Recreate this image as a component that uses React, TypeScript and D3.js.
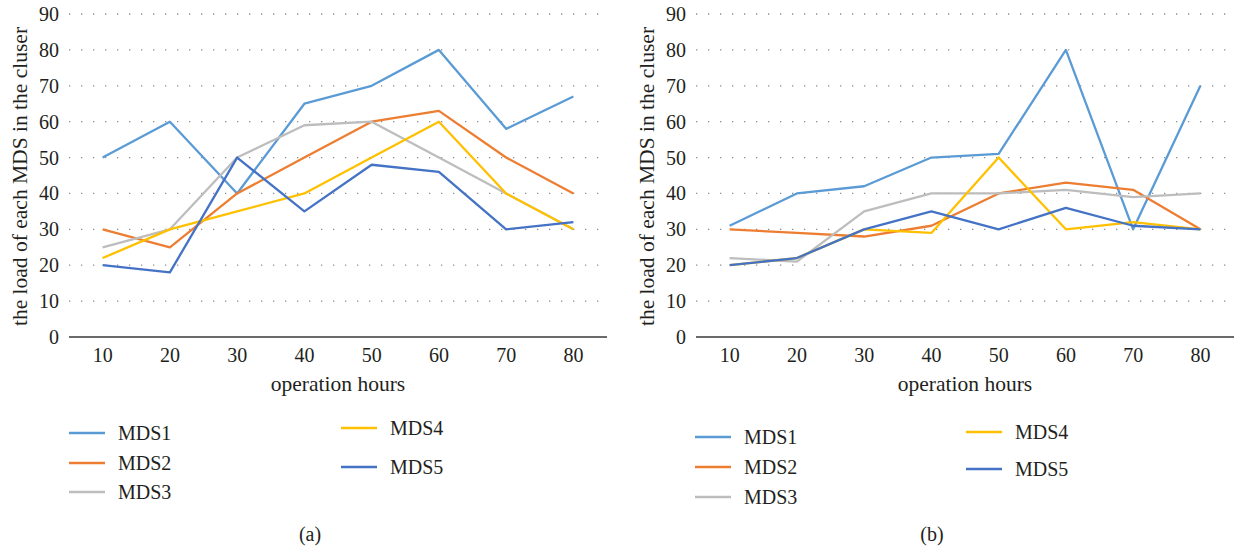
import React from "react";
import * as d3 from "d3";

const categories = ["10", "20", "30", "40", "50", "60", "70", "80"];
const yTicks = [0, 10, 20, 30, 40, 50, 60, 70, 80, 90];
const seriesNames = ["MDS1", "MDS2", "MDS3", "MDS4", "MDS5"];
const seriesColors = ["#5B9BD5", "#ED7D31", "#BDBDBD", "#FFC000", "#4472C4"];

const panelA_MDS1 = [50, 60, 40, 65, 70, 80, 58, 67];
const panelA_MDS2 = [30, 25, 40, 50, 60, 63, 50, 40];
const panelA_MDS3 = [25, 30, 50, 59, 60, 50, 40, 30];
const panelA_MDS4 = [22, 30, 35, 40, 50, 60, 40, 30];
const panelA_MDS5 = [20, 18, 50, 35, 48, 46, 30, 32];

const panelB_MDS1 = [31, 40, 42, 50, 51, 80, 30, 70];
const panelB_MDS2 = [30, 29, 28, 31, 40, 43, 41, 30];
const panelB_MDS3 = [22, 21, 35, 40, 40, 41, 39, 40];
const panelB_MDS4 = [20, 22, 30, 29, 50, 30, 32, 30];
const panelB_MDS5 = [20, 22, 30, 35, 30, 36, 31, 30];

const FONT = "Liberation Serif";
const TEXT = "#231f20";
const fs = (size: number) => ({ fontFamily: FONT, fontSize: size + "px" });

type PanelProps = {
  left: number;
  right: number;
  series: number[][];
  caption: string;
  captionX: number;
  legendLeftX: number;
  legendRightX: number;
  legendLeftY: number[];
  legendRightY: number[];
};

function Panel(p: PanelProps) {
  const top = 14;
  const bottom = 337;
  const x = d3.scaleBand<string>().domain(categories).range([p.left, p.right]);
  const y = d3.scaleLinear().domain([0, 90]).range([bottom, top]);
  const cx = (c: string) => (x(c) as number) + x.bandwidth() / 2;
  const line = d3
    .line<number>()
    .x((_, i) => cx(categories[i]))
    .y((v) => y(v));
  const mid = (p.left + p.right) / 2;
  return (
    <g>
      {yTicks
        .filter((t) => t > 0)
        .map((t) => (
          <line
            key={"g" + t}
            x1={p.left}
            x2={p.right}
            y1={y(t)}
            y2={y(t)}
            stroke="#8c8c8c"
            strokeWidth={1.3}
            strokeDasharray="1.3 10.7"
            strokeLinecap="butt"
          />
        ))}
      <line x1={p.left} x2={p.right} y1={y(0)} y2={y(0)} stroke="#3a3a3a" strokeWidth={1.5} />
      {yTicks.map((t) => (
        <text
          key={"yt" + t}
          x={p.left - 10}
          y={y(t)}
          dy="0.35em"
          textAnchor="end"
          style={fs(20)}
          fill={TEXT}
        >
          {t}
        </text>
      ))}
      {categories.map((c) => (
        <text key={"xt" + c} x={cx(c)} y={362} textAnchor="middle" style={fs(20)} fill={TEXT}>
          {c}
        </text>
      ))}
      <text x={mid} y={391} textAnchor="middle" style={fs(21.5)} fill={TEXT}>
        operation hours
      </text>
      <text
        transform={`translate(${p.left - 50},${(top + bottom) / 2 + 1}) rotate(-90)`}
        textAnchor="middle"
        dy="0.35em"
        style={fs(21.5)}
        fill={TEXT}
      >
        the load of each MDS in the cluser
      </text>
      {p.series.map((s, i) => (
        <path
          key={"s" + i}
          d={line(s) as string}
          fill="none"
          stroke={seriesColors[i]}
          strokeWidth={2.3}
          strokeLinejoin="round"
        />
      ))}
      {seriesNames.map((n, i) => {
        const isLeft = i < 3;
        const lx = isLeft ? p.legendLeftX : p.legendRightX;
        const ly = isLeft ? p.legendLeftY[i] : p.legendRightY[i - 3];
        return (
          <g key={"l" + n}>
            <line x1={lx} x2={lx + 36} y1={ly} y2={ly} stroke={seriesColors[i]} strokeWidth={2.3} />
            <text x={lx + 49} y={ly} dy="0.35em" style={fs(20)} fill={TEXT}>
              {n}
            </text>
          </g>
        );
      })}
      <text x={p.captionX} y={541} textAnchor="middle" style={fs(20)} fill={TEXT}>
        {p.caption}
      </text>
    </g>
  );
}

export default function App() {
  return (
    <svg
      width={1235}
      height={554}
      style={{ position: "absolute", left: 0, top: 0, background: "#fff" }}
    >
      <Panel
        left={69}
        right={607}
        series={[panelA_MDS1, panelA_MDS2, panelA_MDS3, panelA_MDS4, panelA_MDS5]}
        caption="(a)"
        captionX={310}
        legendLeftX={69}
        legendRightX={341}
        legendLeftY={[433, 463, 492]}
        legendRightY={[428, 467]}
      />
      <Panel
        left={696}
        right={1234}
        series={[panelB_MDS1, panelB_MDS2, panelB_MDS3, panelB_MDS4, panelB_MDS5]}
        caption="(b)"
        captionX={932}
        legendLeftX={695}
        legendRightX={966}
        legendLeftY={[437, 467, 497]}
        legendRightY={[432, 469]}
      />
    </svg>
  );
}
